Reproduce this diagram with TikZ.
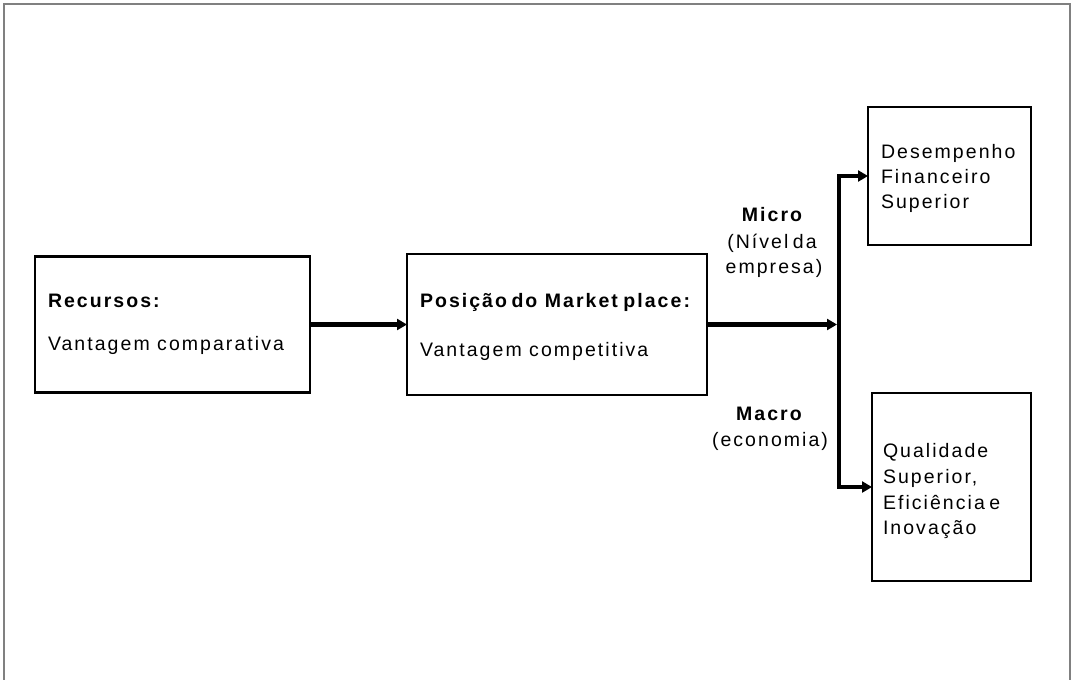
\documentclass[tikz,border=0pt]{standalone}
\usepackage{fontspec}
\setmainfont{Liberation Sans}[LetterSpace=10.5]
\usetikzlibrary{arrows.meta}
\begin{document}
\begin{tikzpicture}[x=1pt,y=-1pt,
  box/.style={draw, line width=2.2pt, inner sep=0pt, outer sep=0pt},
  txt/.style={inner sep=0pt, outer sep=0pt, font=\fontsize{19.5}{23}\selectfont, anchor=base west},
  ctxt/.style={txt, anchor=base},
  tip/.tip={Triangle[length=10pt,width=11pt]},
  conn/.style={line width=4.2pt, -tip},
  frameline/.style={draw=black!50, line width=1.6pt}]
\useasboundingbox (0,0) rectangle (1071,680);
\draw[frameline] (4,680) -- (4,4) -- (1070,4) -- (1070,680);
% boxes
\node[box, minimum width=275pt, minimum height=136pt] (b1) at (172.5,324.5) {};
\node[box, minimum width=300pt, minimum height=141pt] (b2) at (557,324.5) {};
\node[box, minimum width=163pt, minimum height=138pt] (b3) at (949.5,176) {};
\node[box, minimum width=159pt, minimum height=188pt] (b4) at (951.5,487) {};
% texts
\node[txt] (t1a) at (48,307) {\textbf{Recursos:}};
\node[txt] (t1b) at (48,350) {Vantagem comparativa};
\node[txt] (t2a) at (420,307) {\textbf{Posição\hspace{-3pt} do Market\hspace{-2pt} place:}};
\node[txt] (t2b) at (420,356) {Vantagem competitiva};
\node[txt] (t3a) at (881,158.3) {Desempenho};
\node[txt] (t3b) at (881,183.3) {Financeiro};
\node[txt] (t3c) at (881,208.3) {Superior};
\node[txt] (t4a) at (883,457.3) {Qualidade};
\node[txt] (t4b) at (883,483.3) {Superior,};
\node[txt] (t4c) at (883,509.3) {Eficiência\hspace{-3pt} e};
\node[txt] (t4d) at (883,534) {Inovação};
\node[ctxt] (m1) at (773,221) {\textbf{Micro}};
\node[ctxt] (m2) at (772,248.3) {(Nível\hspace{-3pt} da};
\node[ctxt] (m3) at (774,273.3) {empresa)};
\node[ctxt] (n1) at (770,420) {\textbf{Macro}};
\node[ctxt] (n2) at (770,446) {(economia)};
% connectors
\coordinate (jx) at (837,0);
\coordinate (bx) at (839,0);
\draw[conn] (b1.east) -- (b2.west);
\draw[conn] (b2.east) -- (b2.east -| jx);
\draw[line width=4.2pt, tip-tip]
  (b3.west) -- (b3.west -| bx) -- (b4.west -| bx) -- (b4.west);
\end{tikzpicture}
\end{document}
